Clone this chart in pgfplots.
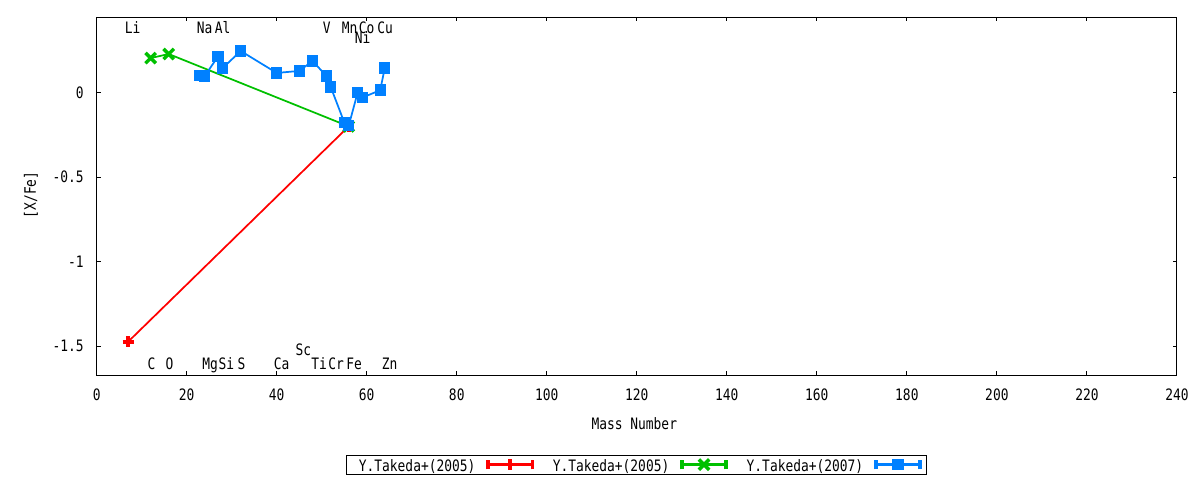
\documentclass[border=0pt]{standalone}
\usepackage{fontspec}
\setmainfont[FakeStretch=0.82]{DejaVu Sans Mono}
\usepackage{pgfplots}
\pgfplotsset{compat=1.18}
\newcommand\gf{\fontsize{11.8pt}{14pt}\selectfont}
\definecolor{gred}{RGB}{255,0,0}
\definecolor{ggreen}{RGB}{0,192,0}
\definecolor{gblue}{RGB}{0,128,255}
\begin{document}
\begin{tikzpicture}
\begin{axis}[
  at={(72.5pt,78.75pt)}, anchor=south west,
  scale only axis, width=810.2pt, height=268.5pt,
  xmin=0, xmax=240, ymin=-1.671, ymax=0.447,
  xtick={0,20,...,240},
  xticklabels={0,20,40,60,80,100,120,140,160,180,200,220,240},
  ytick={-1.5,-1,-0.5,0}, yticklabels={-1.5,-1,-0.5,0},
  minor tick num=0,
  tick align=inside, major tick length=3.3pt,
  tick style={black, line width=0.75pt},
  axis line style={line width=0.75pt},
  xticklabel style={font=\gf, anchor=base, inner sep=0pt, yshift=-19.3pt},
  yticklabel style={font=\gf, anchor=east, inner sep=0pt, xshift=-9.5pt},
  xlabel={Mass Number},
  xlabel style={font=\gf, at={(axis description cs:0.4977,-0.1536)}, anchor=base, inner sep=0pt},
  ylabel={{[X/Fe]}},
  ylabel style={font=\gf, at={(axis description cs:-0.0608,0.503)}, anchor=center, inner sep=0pt},
  legend columns=3,
  legend plot pos=right,
  legend style={at={(0.4994,-0.2514)}, anchor=center, draw=black, line width=0.75pt,
    inner xsep=3.2pt, inner ysep=0.6pt,
    nodes={inner sep=0pt, font=\gf},
    /tikz/every even column/.append style={column sep=7.8pt}},
  legend image code/.code={
    \path (-8.8pt,-2pt) (33.2pt,7pt);
    \draw[#1, line width=2.6pt, mark=none] (0pt,1.5pt) -- (33.2pt,1.5pt);
    \draw[#1, line width=2.6pt, mark=none] (0pt,-2pt) -- (0pt,5pt);
    \draw[#1, line width=2.6pt, mark=none] (33.2pt,-2pt) -- (33.2pt,5pt);
    \draw[#1] plot coordinates {(16.6pt,1.5pt)};
  },
]
\addplot[color=gred, line width=1.3pt, mark=+, mark size=4.1pt,
  mark options={line width=2.7pt}] coordinates {
  (7,-1.474) (56,-0.2)
};
\addlegendentry{\hspace*{6.3pt}Y.Takeda+(2005)}
\addplot[color=ggreen, line width=1.3pt, mark=x, mark size=5.5pt,
  mark options={line width=2.6pt}] coordinates {
  (12,0.204) (16,0.228) (56,-0.2)
};
\addlegendentry{\hspace*{6.3pt}Y.Takeda+(2005)}
\addplot[color=gblue, line width=1.3pt, mark=square*, mark size=3.9pt,
  mark options={line width=0pt}] coordinates {
  (23,0.102) (24,0.098) (27,0.215) (28,0.145) (32,0.246) (40,0.116)
  (45,0.128) (48,0.187) (51,0.098) (52,0.033) (55,-0.176) (56,-0.196)
  (58,0.002) (59,-0.03) (63,0.014) (64,0.145)
};
\addlegendentry{\hspace*{6.3pt}Y.Takeda+(2007)}
\begin{scope}[every node/.style={font=\gf, anchor=base, inner sep=0pt}]
\node at (axis cs:8.0,0.3487) {Li};
\node at (axis cs:24.0,0.3487) {Na};
\node at (axis cs:27.96,0.3487) {Al};
\node at (axis cs:51.1,0.3487) {V};
\node at (axis cs:56.2,0.3487) {Mn};
\node at (axis cs:60.0,0.3487) {Co};
\node at (axis cs:64.1,0.3487) {Cu};
\node at (axis cs:59.1,0.2896) {Ni};
\node at (axis cs:12.2,-1.637) {C};
\node at (axis cs:16.2,-1.637) {O};
\node at (axis cs:25.2,-1.637) {Mg};
\node at (axis cs:28.8,-1.637) {Si};
\node at (axis cs:32.2,-1.637) {S};
\node at (axis cs:41.1,-1.637) {Ca};
\node at (axis cs:45.9,-1.5532) {Sc};
\node at (axis cs:49.4,-1.637) {Ti};
\node at (axis cs:53.2,-1.637) {Cr};
\node at (axis cs:57.2,-1.637) {Fe};
\node at (axis cs:65.1,-1.637) {Zn};
\end{scope}
\end{axis}
\pgfresetboundingbox
\useasboundingbox (0,0) rectangle (900pt,360pt);
\end{tikzpicture}
\end{document}
